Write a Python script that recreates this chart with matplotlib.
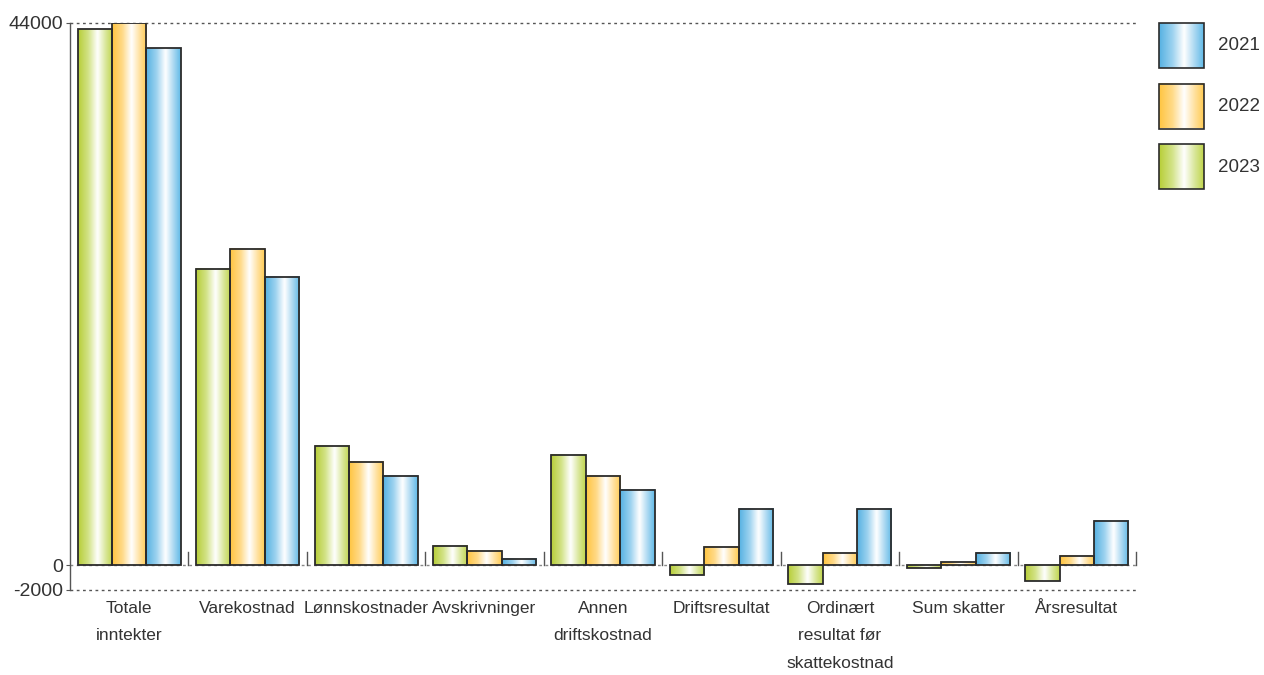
import numpy as np
import matplotlib
matplotlib.use("Agg")
import matplotlib.pyplot as plt
from matplotlib.colors import LinearSegmentedColormap
from matplotlib.patches import Rectangle

plt.rcParams['font.family'] = ['Liberation Sans', 'DejaVu Sans']

categories = ["Totale\ninntekter", "Varekostnad", "Lønnskostnader", "Avskrivninger",
              "Annen\ndriftskostnad", "Driftsresultat", "Ordinært\nresultat før\nskattekostnad",
              "Sum skatter", "Årsresultat"]
years = ["2023", "2022", "2021"]
v2023 = [43460, 24030, 9650, 1590, 8970, -810, -1540, -240, -1300]
v2022 = [44000, 25650, 8400, 1180, 7270, 1460, 1000, 240, 780]
v2021 = [41920, 23400, 7220, 490, 6130, 4590, 4590, 1000, 3590]
series = [v2023, v2022, v2021]
yticks = [44000, 0, -2000]

cmaps = {
    "2023": LinearSegmentedColormap.from_list("g", [(0, "#b7ce36"), (0.3, "#d3e389"), (0.56, "#ffffff"), (0.8, "#d8e698"), (1, "#c0d54a")]),
    "2022": LinearSegmentedColormap.from_list("o", [(0, "#ffc540"), (0.3, "#ffda88"), (0.56, "#ffffff"), (0.8, "#ffe09c"), (1, "#ffcb52")]),
    "2021": LinearSegmentedColormap.from_list("b", [(0, "#55b1e2"), (0.3, "#9cd2ef"), (0.56, "#ffffff"), (0.8, "#a8d7f1"), (1, "#5fb9e7")]),
}
grad = np.linspace(0, 1, 256).reshape(1, -1)

fig = plt.figure(figsize=(12.64, 6.75), dpi=100)
ax = fig.add_axes([70/1264, 1-590/675, (1136-70)/1264, (590-22.7)/675])

n = len(categories)
x = np.arange(n)
w = 0.29
edge = "#2b2b2b"
txt = "#333333"

ax.axhline(0, color="#888888", lw=1, ls=(0, (2, 2.5)), zorder=1)
for yv in (44000, -2000):
    ax.axhline(yv, color="#555555", lw=1, ls=(0, (2, 2.5)), zorder=1, clip_on=False)

def gbar(ax, x0, x1, y0, y1, cmap, z=3):
    ax.imshow(grad, extent=[x0, x1, y0, y1], aspect='auto', cmap=cmap, zorder=z, interpolation='bicubic')
    ax.add_patch(Rectangle((x0, y0), x1-x0, y1-y0, fill=False, ec=edge, lw=1.3, zorder=z+1))

for si, (yr, vals) in enumerate(zip(years, series)):
    for i, v in enumerate(vals):
        x0 = x[i] + (si - 1.5) * w
        gbar(ax, x0, x0 + w, min(0, v), max(0, v), cmaps[yr])

# separator ticks at zero between groups
for b in np.arange(n) + 0.5:
    ax.plot([b, b], [0, 1100], color="#555555", lw=1, zorder=2, clip_on=False)

ax.set_xlim(-0.5, n - 0.5)
ax.set_ylim(-2000, 44000)
ax.set_yticks(yticks)
ax.set_yticklabels([str(t) for t in yticks], fontsize=14, color=txt)
ax.tick_params(axis='y', length=3, color="#555555", pad=2)
ax.set_xticks(x)
ax.set_xticklabels(categories, fontsize=12.5, color=txt, linespacing=2.02)
ax.tick_params(axis='x', length=0, pad=8)
for s in ("top", "right", "bottom"):
    ax.spines[s].set_visible(False)
ax.spines["left"].set_color("#555555")
ax.spines["left"].set_linewidth(1)

# legend
lax = fig.add_axes([0, 0, 1, 1])
lax.set_xlim(0, 1264)
lax.set_ylim(675, 0)
lax.axis("off")
leg_years = ["2021", "2022", "2023"]
for k, yr in enumerate(leg_years):
    top = 23 + k * 60.5
    lax.imshow(grad, extent=[1159, 1204, top + 45, top], aspect='auto', cmap=cmaps[yr], interpolation='bicubic')
    lax.add_patch(Rectangle((1159, top), 45, 45, fill=False, ec=edge, lw=1.2))
    lax.text(1218, top + 23, yr, fontsize=13.5, color=txt, va="center", ha="left")
lax.set_xlim(0, 1264)
lax.set_ylim(675, 0)

fig.savefig("out.png", dpi=100)
